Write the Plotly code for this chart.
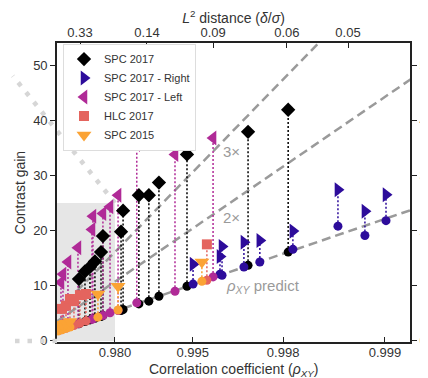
import numpy as np
import plotly.graph_objects as go

# SPC 2017 (measured gain, predicted gain from rho)
spc17_rho = [0.9306, 0.9470, 0.9566, 0.9637, 0.9703, 0.9720, 0.9828, 0.9836,
             0.9883, 0.9903, 0.99184, 0.99461, 0.99728, 0.99808]
spc17_gain = [11.2, 12.6, 13.4, 14.4, 16.1, 19.0, 19.8, 23.6, 26.4, 26.4, 28.7, 33.8, 37.9, 41.9]
spc17_pred = [3.1, 3.5, 3.8, 4.1, 4.4, 4.6, 5.5, 5.7, 6.7, 7.2, 8.1, 9.9, 13.7, 16.1]

# SPC 2017 - Right
right_rho = [0.99502, 0.99638, 0.99646, 0.99717, 0.99756, 0.99815, 0.998663, 0.998874, 0.999006]
right_gain = [13.9, 15.3, 17.1, 17.9, 18.2, 19.9, 27.4, 23.5, 26.5]
right_pred = [10.3, 12.1, 11.9, 13.4, 14.3, 16.6, 20.8, 19.1, 21.8]

# SPC 2017 - Left
left_rho = [0.7858, 0.8178, 0.8722, 0.9272, 0.9597, 0.9611, 0.9720, 0.9772,
            0.9815, 0.9878, 0.99363, 0.99609]
left_gain = [10.6, 12.1, 14.3, 16.9, 20.2, 22.6, 23.1, 24.3, 26.4, 35.6, 33.8, 36.8]
left_pred = [2.0, 2.2, 2.5, 3.1, 3.9, 4.0, 4.6, 5.1, 5.5, 6.9, 9.0, 11.6]

# HLC 2017
hlc_rho = [0.8028, 0.8538, 0.8873, 0.9105, 0.9338, 0.9491, 0.99580]
hlc_gain = [5.8, 6.4, 7.6, 7.2, 8.3, 8.5, 17.5]
hlc_pred = [2.1, 2.3, 2.6, 2.8, 3.2, 3.6, 11.0]

# SPC 2015
spc15_rho = [0.7195, 0.8028, 0.8538, 0.8873, 0.9672, 0.9815, 0.99554]
spc15_gain = [2.6, 3.0, 3.2, 3.5, 8.5, 9.9, 14.3]
spc15_pred = [1.8, 2.0, 2.3, 2.5, 4.3, 5.6, 10.8]

# rho-predicted contrast gain (linear in 1/sqrt(1-rho)) and its multiples
pred_intercept = 0.55
pred_slope = 0.682
multiples = [1, 2, 3]

rho_ticks = [0.980, 0.995, 0.998, 0.999]
rho_ticklabels = ["0.980", "0.995", "0.998", "0.999"]
l2_tick_rho = [0.934, 0.98996, 0.99609, 0.99806, 0.998748]
l2_ticklabels = ["0.33", "0.14", "0.09", "0.06", "0.05"]
y_ticks = [0, 10, 20, 30, 40, 50]

zoom_rho = 0.980   # shaded zoom box edge
zoom_gain = 25


def fx(rho):
    return 1.0 / np.sqrt(1.0 - np.asarray(rho, dtype=float))


XR = [1.80, 33.9]
YR = [-0.2, 54]
FONT = "Liberation Sans, Arial, sans-serif"

NAVY = "#2d0c9b"
MAGENTA = "#b02a97"
SALMON = "#e4645e"
ORANGE = "#fba335"

series = [
    ("SPC 2017", spc17_rho, spc17_gain, spc17_pred, "black", "diamond", 11),
    ("SPC 2017 - Right", right_rho, right_gain, right_pred, NAVY, "triangle-right", 13),
    ("SPC 2017 - Left", left_rho, left_gain, left_pred, MAGENTA, "triangle-left", 13),
    ("HLC 2017", hlc_rho, hlc_gain, hlc_pred, SALMON, "square", 10),
    ("SPC 2015", spc15_rho, spc15_gain, spc15_pred, ORANGE, "triangle-down", 13),
]

fig = go.Figure()

# prediction lines
xl = np.linspace(XR[0], XR[1] + 1, 50)
for m in multiples:
    fig.add_trace(go.Scatter(
        x=xl, y=m * (pred_intercept + pred_slope * xl), mode="lines",
        line=dict(color="#9a9a9a", width=2.5, dash="9px,5px"),
        showlegend=False, hoverinfo="skip"))

# dotted connectors
for name, rho, gain, pred, col, sym, sz in series:
    xs, ys = [], []
    for x, g, p in zip(fx(rho), gain, pred):
        xs += [x, x, None]
        ys += [p, g, None]
    fig.add_trace(go.Scatter(x=xs, y=ys, mode="lines",
                             line=dict(color=col, width=1.5, dash="2px,2px"),
                             showlegend=False, hoverinfo="skip"))

# predicted points
for name, rho, gain, pred, col, sym, sz in series:
    fig.add_trace(go.Scatter(x=fx(rho), y=pred, mode="markers",
                             marker=dict(color=col, size=9, symbol="circle", line=dict(width=0)),
                             showlegend=False))

# measured points
for name, rho, gain, pred, col, sym, sz in series:
    fig.add_trace(go.Scatter(x=fx(rho), y=gain, mode="markers", name=name,
                             marker=dict(color=col, size=sz, symbol=sym, line=dict(width=0))))

# dummy trace for the top / right axes
fig.add_trace(go.Scatter(x=[XR[0]], y=[YR[0]], xaxis="x2", yaxis="y2", mode="markers",
                         marker=dict(opacity=0), showlegend=False, hoverinfo="skip"))

# zoom region and connectors
zx = float(fx(zoom_rho))
fig.add_shape(type="rect", xref="x", yref="y", x0=XR[0], x1=zx, y0=0, y1=zoom_gain,
              fillcolor="#e6e6e6", line=dict(width=0), layer="below")
cx = (zx - XR[0]) / (XR[1] - XR[0])
cy = (zoom_gain - YR[0]) / (YR[1] - YR[0])
y0p = (0 - YR[0]) / (YR[1] - YR[0])
fig.add_shape(type="line", xref="paper", yref="paper", x0=cx, y0=cy, x1=-0.125, y1=0.89,
              line=dict(color="#d6d6d6", width=4.5, dash="4.5px,8px"), layer="below")
fig.add_shape(type="line", xref="paper", yref="paper", x0=0, y0=y0p, x1=-0.12, y1=y0p,
              line=dict(color="#d6d6d6", width=4.5, dash="4.5px,8px"))

ann_font = dict(family=FONT, size=15, color="#9a9a9a")
fig.add_annotation(x=17.7, y=34.3, text="3×", showarrow=False, font=ann_font)
fig.add_annotation(x=17.7, y=22.4, text="2×", showarrow=False, font=ann_font)
fig.add_annotation(x=20.5, y=9.9, text="<i>ρ</i><sub><i>XY</i></sub> predict",
                   showarrow=False, font=ann_font)
fig.add_annotation(xref="paper", yref="paper", x=0.5, y=-0.092, yanchor="middle",
                   text="Correlation coefficient (<i>ρ</i><sub><i>XY</i></sub>)", showarrow=False,
                   font=dict(family=FONT, size=14, color="#333333"))

tick_font = dict(family=FONT, size=13, color="#333333")
axis_common = dict(showgrid=False, zeroline=False, showline=True, linecolor="#222222",
                   linewidth=1.6, tickcolor="#222222", ticklen=5, tickwidth=1.4,
                   tickfont=tick_font, automargin=False)

# the page body adds an 8px offset, so the figure is 8px smaller on each side
fig.update_layout(
    width=420, height=370,
    margin=dict(l=49, r=18, t=35, b=36),
    paper_bgcolor="white", plot_bgcolor="white",
    font=dict(family=FONT, color="#333333"),
    xaxis=dict(range=XR, tickvals=fx(rho_ticks), ticktext=rho_ticklabels, ticks="inside",
               mirror=True, ticklabelstandoff=-2, **axis_common),
    xaxis2=dict(range=XR, overlaying="x", side="top", anchor="y", tickvals=fx(l2_tick_rho),
                ticktext=l2_ticklabels, ticks="inside", ticklabelstandoff=-1,
                title=dict(text="<i>L</i><sup>2</sup> distance (<i>δ</i>/<i>σ</i>)",
                           font=dict(family=FONT, size=14, color="#333333"), standoff=5),
                **axis_common),
    yaxis=dict(range=YR, tickvals=y_ticks, ticks="outside", mirror=True,
               title=dict(text="Contrast gain", font=dict(family=FONT, size=14, color="#333333"),
                          standoff=4),
               **axis_common),
    yaxis2=dict(range=YR, overlaying="y", side="right", anchor="x", tickvals=y_ticks,
                ticks="outside", **axis_common),
    legend=dict(x=0.017, y=0.998, xanchor="left", yanchor="top", bgcolor="white",
                bordercolor="#dddddd", borderwidth=1,
                font=dict(family=FONT, size=11, color="#333333"),
                itemwidth=30, tracegroupgap=0),
)

fig.write_html("out.html")
